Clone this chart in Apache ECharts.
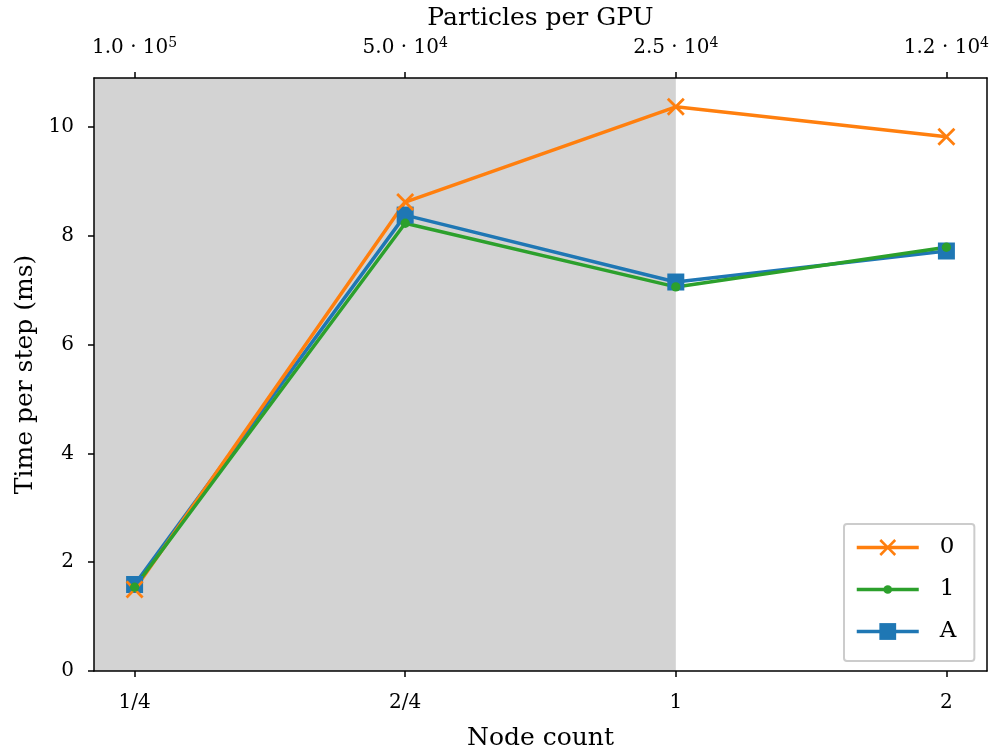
<!DOCTYPE html>
<html>
<head>
<meta charset="utf-8">
<script src="https://cdn.jsdelivr.net/npm/echarts@6/dist/echarts.min.js"></script>
<style>
  html, body { margin: 0; padding: 0; background: #fff; }
  #chart { width: 993px; height: 751px; }
</style>
</head>
<body>
<div id="chart"></div>
<script>
// node counts (bottom axis) and particles per GPU (top axis)
const nodeLabels = ['1/4', '2/4', '1', '2'];
const topMantissa = ['1.0', '5.0', '2.5', '1.2'];
const topExponent = ['5', '4', '4', '4'];
const yTicks = [0, 2, 4, 6, 8, 10];

// time per step (ms)
const series0 = [1.50, 8.62, 10.37, 9.82];
const series1 = [1.54, 8.23, 7.06, 7.79];
const seriesA = [1.59, 8.38, 7.15, 7.72];

const shadeEnd = 2; // gray band ends at node count "1"

const xMin = -0.15, xMax = 3.15;
const font = 'DejaVu Serif';
const xIdx = nodeLabels.map((_, i) => i);
const pts = arr => arr.map((v, i) => [i, v]);

const crossPath = 'path://M0,1.1L1.1,0L5,3.9L8.9,0L10,1.1L6.1,5L10,8.9L8.9,10L5,6.1L1.1,10L0,8.9L3.9,5Z';
// small dot inside a larger empty box, so the legend dot stays small
const smallDot = 'path://M0,0L0,0M20,20L20,20M15.2,10A5.2,5.2 0 1 1 4.8,10A5.2,5.2 0 1 1 15.2,10Z';

const chart = echarts.init(document.getElementById('chart'));

chart.setOption({
  animation: false,
  backgroundColor: '#fff',
  textStyle: { fontFamily: font, color: '#000' },
  grid: { left: 94, right: 6, top: 78, bottom: 80, outerBoundsMode: 'none' },
  legend: {
    data: ['0', '1', 'A'],
    orient: 'vertical',
    left: 844,
    top: 524,
    itemWidth: 62,
    itemHeight: 21,
    itemGap: 19,
    padding: [12, 18, 18, 11],
    backgroundColor: 'rgba(255,255,255,0.8)',
    borderColor: '#cccccc',
    borderWidth: 2,
    borderRadius: 3,
    lineStyle: { width: 3.5 },
    textStyle: { fontFamily: font, fontSize: 23, color: '#000', padding: [0, 0, 0, 16] }
  },
  xAxis: [
    {
      type: 'value',
      position: 'bottom',
      min: xMin,
      max: xMax,
      z: 10,
      name: 'Node count',
      nameLocation: 'middle',
      nameGap: 55,
      nameTextStyle: { fontFamily: font, fontSize: 25, color: '#000' },
      splitLine: { show: false },
      axisLine: { show: true, onZero: false, lineStyle: { color: '#000', width: 1.5 } },
      axisTick: { show: true, customValues: xIdx, length: 6, lineStyle: { color: '#000', width: 1.5 } },
      axisLabel: {
        customValues: xIdx,
        margin: 22,
        fontFamily: font,
        fontSize: 20,
        color: '#000',
        formatter: v => nodeLabels[Math.round(v)]
      }
    },
    {
      type: 'value',
      position: 'top',
      min: xMin,
      max: xMax,
      z: 10,
      name: 'Particles per GPU',
      nameLocation: 'middle',
      nameGap: 45,
      nameTextStyle: { fontFamily: font, fontSize: 25, color: '#000' },
      splitLine: { show: false },
      axisLine: { show: true, onZero: false, lineStyle: { color: '#000', width: 1.5 } },
      axisTick: { show: true, customValues: xIdx, length: 6, lineStyle: { color: '#000', width: 1.5 } },
      axisLabel: {
        customValues: xIdx,
        margin: 18,
        fontFamily: font,
        fontSize: 20,
        color: '#000',
        formatter: v => {
          const i = Math.round(v);
          return '{b|' + topMantissa[i] + ' · 10}{s|' + topExponent[i] + '}';
        },
        rich: {
          b: { fontFamily: font, fontSize: 20, color: '#000' },
          s: { fontFamily: font, fontSize: 14, color: '#000', verticalAlign: 'top', padding: [0, 0, 10, 0] }
        }
      }
    }
  ],
  yAxis: [
    {
      type: 'value',
      position: 'left',
      min: 0,
      max: 10.9,
      z: 10,
      name: 'Time per step (ms)',
      nameLocation: 'middle',
      nameGap: 54,
      nameTextStyle: { fontFamily: font, fontSize: 25, color: '#000' },
      splitLine: { show: false },
      axisLine: { show: true, onZero: false, lineStyle: { color: '#000', width: 1.5 } },
      axisTick: { show: true, customValues: yTicks, length: 6, lineStyle: { color: '#000', width: 1.5 } },
      axisLabel: { customValues: yTicks, margin: 20, fontFamily: font, fontSize: 20, color: '#000' }
    },
    {
      type: 'value',
      position: 'right',
      min: 0,
      max: 10.9,
      z: 10,
      splitLine: { show: false },
      axisLine: { show: true, onZero: false, lineStyle: { color: '#000', width: 1.5 } },
      axisTick: { show: false },
      axisLabel: { show: false }
    }
  ],
  series: [
    {
      name: 'A',
      type: 'line',
      data: pts(seriesA),
      color: '#1f77b4',
      symbol: 'rect',
      symbolSize: 17,
      lineStyle: { width: 3.5 },
      markArea: {
        silent: true,
        itemStyle: { color: '#d3d3d3' },
        data: [[{ xAxis: xMin }, { xAxis: shadeEnd }]]
      }
    },
    {
      name: '0',
      type: 'line',
      data: pts(series0),
      color: '#ff7f0e',
      symbol: crossPath,
      symbolSize: 18,
      lineStyle: { width: 3.5 }
    },
    {
      name: '1',
      type: 'line',
      data: pts(series1),
      color: '#2ca02c',
      symbol: smallDot,
      symbolSize: 18,
      lineStyle: { width: 3.5 }
    }
  ]
});
</script>
</body>
</html>
